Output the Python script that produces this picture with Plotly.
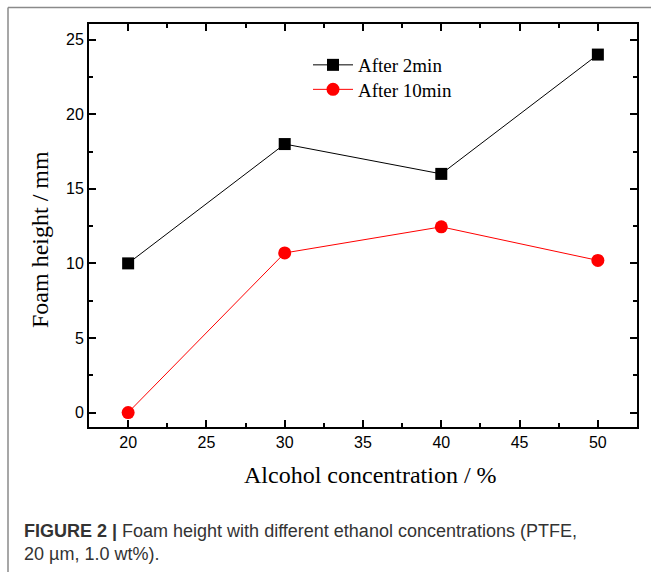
import plotly.graph_objects as go

# Foam height versus alcohol concentration
concentration = [20, 30, 40, 50]
height_2min = [10, 18, 16, 24]
height_10min = [0, 10.7, 12.45, 10.2]

x_ticks = [20, 25, 30, 35, 40, 45, 50]
y_ticks = [0, 5, 10, 15, 20, 25]

W, H = 651, 572
L, R, T, B = 89, 14, 24, 145
pw, ph = W - L - R, H - T - B


def px_x(px):
    return (px - L) / pw


def px_y(py):
    return (H - B - py) / ph


SERIF = "Liberation Serif, Times New Roman, serif"
SANS = "Liberation Sans, Arial, sans-serif"

fig = go.Figure()
fig.add_trace(go.Scatter(
    x=concentration, y=height_2min, name="After 2min",
    mode="lines+markers",
    line=dict(color="black", width=1),
    marker=dict(symbol="square", size=12, color="black"),
    legend="legend",
))
fig.add_trace(go.Scatter(
    x=concentration, y=height_10min, name="After 10min",
    mode="lines+markers",
    line=dict(color="red", width=1),
    marker=dict(symbol="circle", size=13, color="red"),
    legend="legend2",
))

axis_common = dict(
    showline=True, linecolor="black", linewidth=2, mirror="allticks",
    ticks="inside", ticklen=7, tickwidth=1.5, tickcolor="black",
    showgrid=False, zeroline=False,
    tickfont=dict(family=SANS, size=16, color="black"),
)

fig.update_xaxes(
    range=[17.5, 52.5], tickvals=x_ticks,
    minor=dict(ticks="inside", ticklen=4, dtick=2.5, tick0=20, tickwidth=1.5, tickcolor="black", showgrid=False),
    **axis_common,
)
fig.update_yaxes(
    range=[-0.97, 26.05], tickvals=y_ticks,
    minor=dict(ticks="inside", ticklen=4, dtick=2.5, tick0=0, tickwidth=1.5, tickcolor="black", showgrid=False),
    **axis_common,
)

legend_style = dict(
    xanchor="left", yanchor="middle",
    bgcolor="rgba(0,0,0,0)", borderwidth=0,
    font=dict(family=SERIF, size=19, color="black"),
    itemwidth=40,
)

fig.update_layout(
    width=W, height=H,
    margin=dict(l=L, r=R, t=T, b=B, pad=0),
    paper_bgcolor="white", plot_bgcolor="white",
    showlegend=True,
    legend=dict(x=px_x(308), y=px_y(65), **legend_style),
    legend2=dict(x=px_x(308), y=px_y(89.5), **legend_style),
    shapes=[
        dict(type="line", xref="paper", yref="paper",
             x0=px_x(8), x1=px_x(660), y0=px_y(7.5), y1=px_y(7.5),
             line=dict(color="#8a8a8a", width=1.5)),
        dict(type="line", xref="paper", yref="paper",
             x0=px_x(8), x1=px_x(8), y0=px_y(7.5), y1=px_y(580),
             line=dict(color="#8a8a8a", width=1.5)),
    ],
    annotations=[
        dict(
            xref="paper", yref="paper", x=px_x(370), y=px_y(475),
            xanchor="center", yanchor="middle", showarrow=False,
            text="Alcohol concentration / %",
            font=dict(family=SERIF, size=24, color="black"),
        ),
        dict(
            xref="paper", yref="paper", x=px_x(40), y=px_y(240),
            xanchor="center", yanchor="middle", showarrow=False, textangle=-90,
            text="Foam height / mm",
            font=dict(family=SERIF, size=24, color="black"),
        ),
        dict(
            xref="paper", yref="paper", x=px_x(22), y=px_y(519),
            xanchor="left", yanchor="top", align="left", showarrow=False,
            text="<b>FIGURE 2 |</b> Foam height with different ethanol concentrations (PTFE,<br>20 µm, 1.0 wt%).",
            font=dict(family=SANS, size=18, color="#333333"),
        ),
    ],
)

fig.write_html("out.html")
